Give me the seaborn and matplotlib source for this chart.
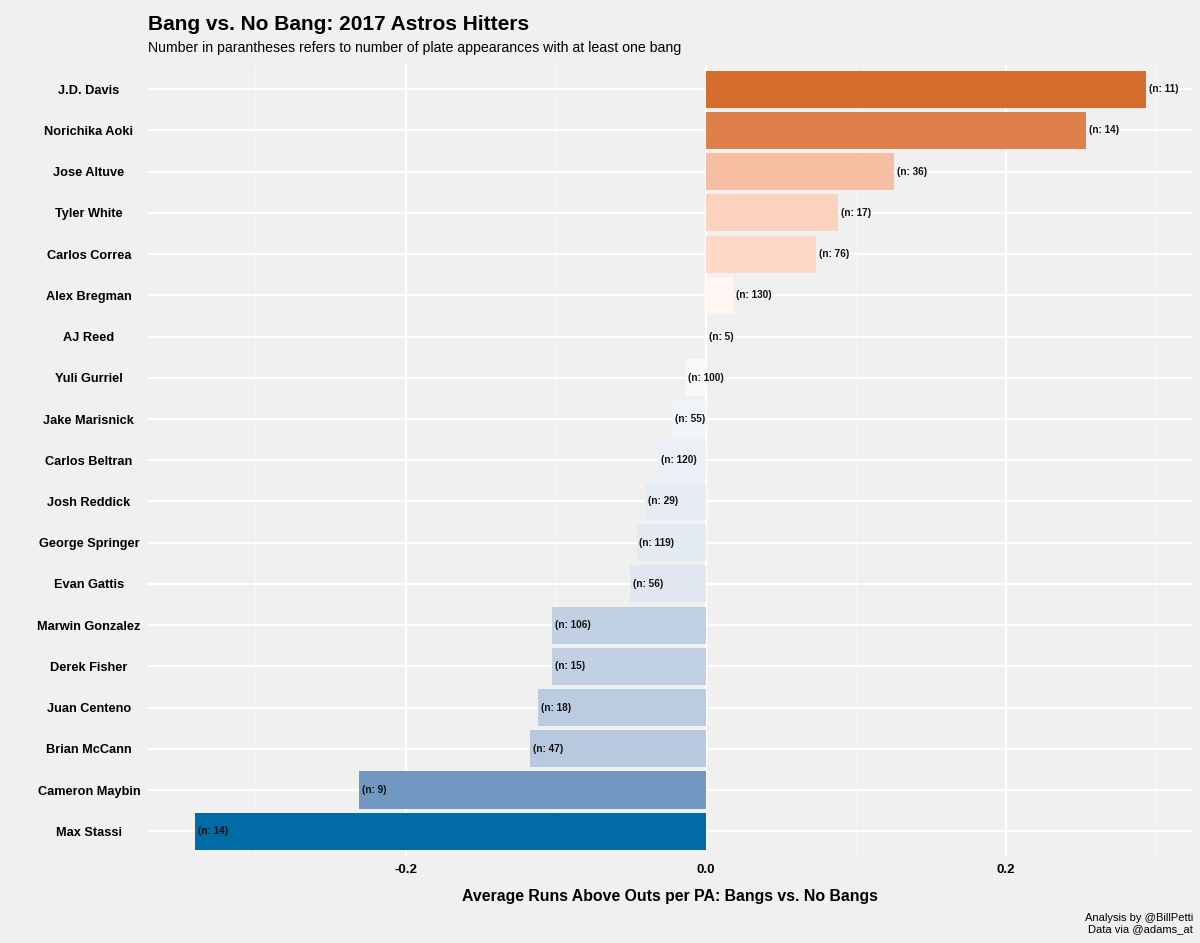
import numpy as np
import pandas as pd
import matplotlib
matplotlib.use("Agg")
import matplotlib.pyplot as plt
import seaborn as sns
from matplotlib.ticker import MultipleLocator

players = ["J.D. Davis", "Norichika Aoki", "Jose Altuve", "Tyler White", "Carlos Correa",
           "Alex Bregman", "AJ Reed", "Yuli Gurriel", "Jake Marisnick", "Carlos Beltran",
           "Josh Reddick", "George Springer", "Evan Gattis", "Marwin Gonzalez", "Derek Fisher",
           "Juan Centeno", "Brian McCann", "Cameron Maybin", "Max Stassi"]
run_diff = [0.293, 0.253, 0.1256, 0.0882, 0.0733, 0.0184, 0.0005, -0.0135, -0.0224, -0.0318,
            -0.0407, -0.0462, -0.0507, -0.1025, -0.1022, -0.112, -0.1173, -0.2311, -0.3403]
bang_pa = [11, 14, 36, 17, 76, 130, 5, 100, 55, 120, 29, 119, 56, 106, 15, 18, 47, 9, 14]

df = pd.DataFrame({"player": players, "diff": run_diff, "n": bang_pa})


# diverging fill like ggplot's scale_fill_gradient2 (interpolated in Lab space)
def to_lab(hexcol):
    rgb = np.array(matplotlib.colors.to_rgb(hexcol))
    lin = np.where(rgb <= 0.04045, rgb / 12.92, ((rgb + 0.055) / 1.055) ** 2.4)
    m = np.array([[0.4124, 0.3576, 0.1805], [0.2126, 0.7152, 0.0722], [0.0193, 0.1192, 0.9505]])
    xyz = m @ lin / np.array([0.95047, 1.0, 1.08883])
    f = np.where(xyz > 0.008856, np.cbrt(xyz), 7.787 * xyz + 16 / 116)
    return np.array([116 * f[1] - 16, 500 * (f[0] - f[1]), 200 * (f[1] - f[2])])


def from_lab(lab):
    fy = (lab[0] + 16) / 116
    f = np.array([fy + lab[1] / 500, fy, fy - lab[2] / 200])
    xyz = np.where(f ** 3 > 0.008856, f ** 3, (f - 16 / 116) / 7.787) * np.array([0.95047, 1.0, 1.08883])
    m = np.array([[3.2406, -1.5372, -0.4986], [-0.9689, 1.8758, 0.0415], [0.0557, -0.2040, 1.0570]])
    lin = m @ xyz
    rgb = np.where(lin <= 0.0031308, 12.92 * lin, 1.055 * np.clip(lin, 0, None) ** (1 / 2.4) - 0.055)
    return np.clip(rgb, 0, 1)


low, mid, high = to_lab("#006BA4"), to_lab("#FFFFFF"), to_lab("#C85200")
lim = max(abs(v) for v in run_diff)


def fill_for(v):
    t = v / lim
    end = high if t > 0 else low
    return from_lab(mid + abs(t) * (end - mid))


pal = {p: fill_for(v) for p, v in zip(players, run_diff)}

bg = "#F0F0F0"
plt.rcParams["font.family"] = ["Liberation Sans", "DejaVu Sans"]

fig = plt.figure(figsize=(12, 9.43), dpi=100, facecolor=bg)
ax = fig.add_axes([0.1233, 0.0923, 0.994 - 0.1233, 0.9316 - 0.0923])
ax.set_facecolor(bg)

sns.barplot(data=df, y="player", x="diff", hue="player", palette=pal, legend=False,
            orient="h", width=0.9, linewidth=0, saturation=1, ax=ax, zorder=3)

for i, row in df.iterrows():
    ax.annotate(f"(n: {row['n']})", xy=(row["diff"], i), xytext=(2, 0), textcoords="offset points",
                ha="left", va="center", fontsize=7.2, fontweight="bold", color="#111111", zorder=4)

ax.set_xlim(-0.3716, 0.3243)
ax.set_ylim(len(players) - 1 + 0.6, -0.6)
ax.xaxis.set_major_locator(MultipleLocator(0.2))
ax.xaxis.set_minor_locator(MultipleLocator(0.1))
ax.set_xticks([-0.2, 0.0, 0.2])
ax.set_xticklabels(["-0.2", "0.0", "0.2"])
ax.grid(True, which="major", axis="both", color="white", linewidth=1.6, zorder=0)
ax.grid(True, which="minor", axis="x", color="white", linewidth=0.6, alpha=0.5, zorder=0)
ax.set_axisbelow(True)
for s in ax.spines.values():
    s.set_visible(False)
ax.tick_params(axis="both", which="both", length=0)
ax.tick_params(axis="x", pad=6, labelsize=9.5)
ax.tick_params(axis="y", pad=42.5, labelsize=9.2)
for lab in ax.get_yticklabels():
    lab.set_ha("center")
    lab.set_fontweight("bold")
for lab in ax.get_xticklabels():
    lab.set_fontweight("bold")

ax.set_ylabel("")
ax.set_xlabel("Average Runs Above Outs per PA: Bangs vs. No Bangs", fontsize=11.4,
              fontweight="bold", labelpad=9)

fig.text(0.1233, 0.974, "Bang vs. No Bang: 2017 Astros Hitters", fontsize=15,
         fontweight="bold", ha="left", va="center")
fig.text(0.1233, 0.949, "Number in parantheses refers to number of plate appearances with at least one bang",
         fontsize=10.2, ha="left", va="center")
fig.text(0.994, 0.021, "Analysis by @BillPetti\nData via @adams_at", fontsize=8,
         ha="right", va="center", linespacing=1.15)

fig.savefig("out.png", dpi=100, facecolor=bg)
